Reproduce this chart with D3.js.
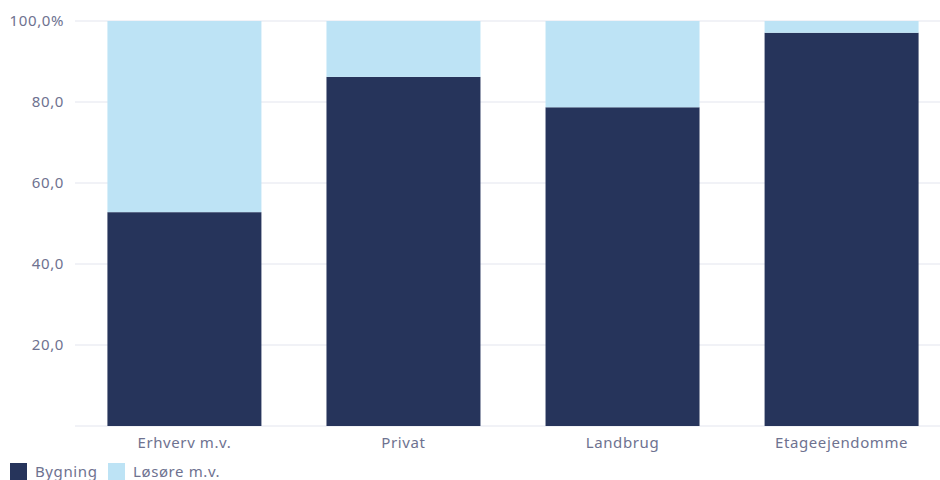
<!DOCTYPE html>
<html>
<head>
<meta charset="utf-8">
<script src="https://cdn.jsdelivr.net/npm/d3@7"></script>
<style>
  body { margin: 0; background: #fff; }
  svg text { font-family: "Noto Sans", "DejaVu Sans", sans-serif; fill: #6e7290; letter-spacing: 0.6px; }
</style>
</head>
<body>
<div id="chart"></div>
<script>
var categories = ["Erhverv m.v.", "Privat", "Landbrug", "Etageejendomme"];
var bygning = [52.8, 86.2, 78.7, 97.1];
var losore = [47.2, 13.8, 21.3, 2.9];
var seriesNames = ["Bygning", "Løsøre m.v."];
var seriesColors = ["#26345b", "#bde3f5"];
var yTicks = [20, 40, 60, 80, 100];

var W = 940, H = 480;
var margin = { top: 21, right: -11, bottom: 54, left: 75 };
var width = W - margin.left - margin.right,
    height = H - margin.top - margin.bottom;

var svg = d3.select("#chart").append("svg")
  .attr("width", W).attr("height", H);
var g = svg.append("g")
  .attr("transform", "translate(" + margin.left + "," + margin.top + ")");

var x = d3.scaleBand().domain(categories).range([0, width])
  .paddingInner(0.297).paddingOuter(0.148);
var y = d3.scaleLinear().domain([0, 100]).range([height, 0]);

// grid
g.selectAll(".grid").data([0].concat(yTicks)).enter().append("line")
  .attr("x1", 0).attr("x2", W - margin.left)
  .attr("y1", function(d) { return y(d); }).attr("y2", function(d) { return y(d); })
  .attr("stroke", "#e3e5ee").attr("stroke-width", 1);

var rows = categories.map(function(c, i) { return { cat: c, Bygning: bygning[i], "Løsøre m.v.": losore[i] }; });
var stack = d3.stack().keys(seriesNames)(rows);

g.selectAll(".layer").data(stack).enter().append("g")
  .attr("fill", function(d, i) { return seriesColors[i]; })
  .selectAll("rect").data(function(d) { return d; }).enter().append("rect")
  .attr("x", function(d) { return x(d.data.cat); })
  .attr("width", x.bandwidth())
  .attr("y", function(d) { return y(d[1]); })
  .attr("height", function(d) { return y(d[0]) - y(d[1]); });

// y labels
g.selectAll(".ylab").data(yTicks).enter().append("text")
  .attr("x", -11).attr("y", function(d) { return y(d); })
  .attr("dy", "0.35em").attr("text-anchor", "end")
  .style("font-size", "15px")
  .text(function(d) { return d === 100 ? "100,0%" : d3.format(".1f")(d).replace(".", ","); });

// x labels
g.selectAll(".xlab").data(categories).enter().append("text")
  .attr("x", function(d) { return x(d) + x.bandwidth() / 2; })
  .attr("y", height + 22).attr("text-anchor", "middle")
  .style("font-size", "15px")
  .text(function(d) { return d; });

// legend
var legX = [10, 108];
var leg = svg.selectAll(".leg").data(seriesNames).enter().append("g")
  .attr("transform", function(d, i) { return "translate(" + legX[i] + ",463)"; });
leg.append("rect").attr("width", 17).attr("height", 17)
  .attr("fill", function(d, i) { return seriesColors[i]; });
leg.append("text").attr("x", 25).attr("y", 9).attr("dy", "0.35em")
  .style("font-size", "15px")
  .text(function(d) { return d; });
</script>
</body>
</html>
